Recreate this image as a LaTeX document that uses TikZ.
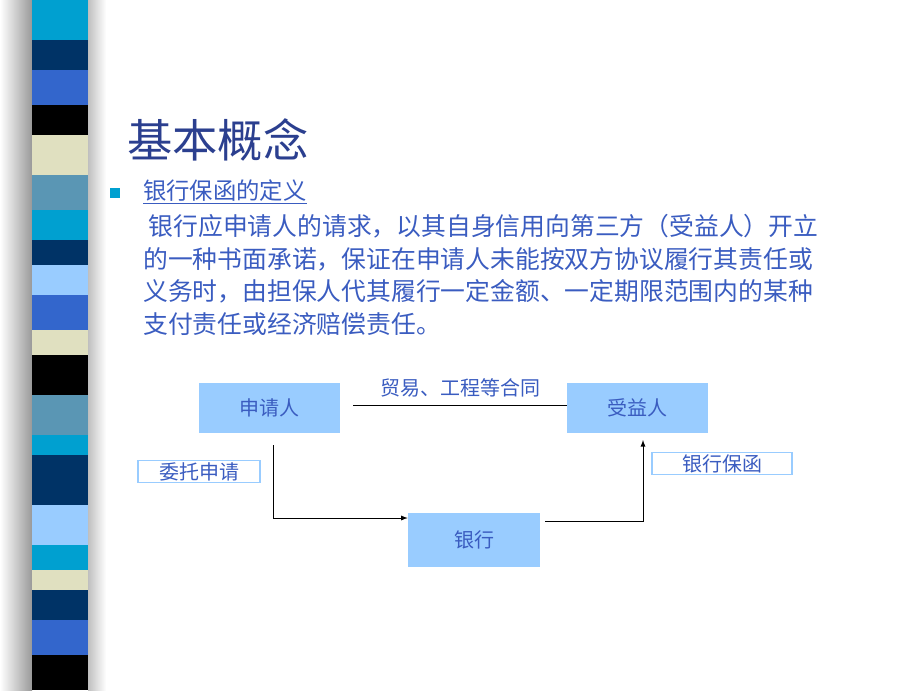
\documentclass[tikz,border=0pt]{standalone}
\usepackage{fontspec}
\newfontfamily\cjk{Noto Sans CJK SC}
\usetikzlibrary{positioning}
\definecolor{stripeCyan}{HTML}{00A0D0}
\definecolor{stripeSteel}{HTML}{5A96B4}
\definecolor{stripeNavy}{HTML}{003366}
\definecolor{stripeRoyal}{HTML}{3366CC}
\definecolor{stripeCream}{HTML}{E0E0C0}
\definecolor{stripeLight}{HTML}{99CCFF}
\definecolor{titleBlue}{HTML}{2B3F8F}
\definecolor{textBlue}{HTML}{3A5CC0}
\tikzset{
  party/.style = {fill=stripeLight, minimum width=105.75pt, minimum height=37.5pt, inner sep=0, font=\cjk\fontsize{15}{15}\selectfont, text=textBlue},
  tag/.style = {draw=stripeLight, line width=0.8pt, inner sep=0, font=\cjk\fontsize{15}{15}\selectfont, text=textBlue},
  flow/.style = {line width=0.7pt, -latex}
}
\begin{document}
\begin{tikzpicture}[x=0.75pt, y=-0.75pt]
\useasboundingbox (0,0) rectangle (920,690);

% shadowed stripe bar
\shade[left color=white, right color=gray!80] (0,0) rectangle (32,690);
\shade[left color=gray!50, right color=white] (88,0) rectangle (106,690);
\foreach \ya/\yb/\c in {0/40/stripeCyan, 40/70/stripeNavy, 70/105/stripeRoyal, 105/135/black,
  135/175/stripeCream, 175/210/stripeSteel, 210/240/stripeCyan, 240/265/stripeNavy,
  265/295/stripeLight, 295/330/stripeRoyal, 330/355/stripeCream, 355/395/black,
  395/435/stripeSteel, 435/455/stripeCyan, 455/505/stripeNavy, 505/545/stripeLight,
  545/570/stripeCyan, 570/590/stripeCream, 590/620/stripeNavy, 620/655/stripeRoyal, 655/690/black}
  \fill[\c] (32,\ya) rectangle (88,\yb);

% text
\node[anchor=west, text=titleBlue, font=\cjk\fontsize{34}{34}\selectfont, inner sep=0] (title) at (127,140) {基本概念};
\fill[stripeCyan] (110,188) rectangle (120,198);
\node[anchor=west, text=textBlue, font=\cjk\fontsize{17.5}{17.5}\selectfont, inner sep=0] (head) at (143,192) {\underline{银行保函的定义}};
\node[anchor=north west, text=textBlue, font=\cjk\fontsize{18.6}{24.4}\selectfont, inner sep=0, align=left] (body) at (143,214)
  {\hspace{4pt}银行应申请人的请求，以其自身信用向第三方（受益人）开立\\
   的一种书面承诺，保证在申请人未能按双方协议履行其责任或\\
   义务时，由担保人代其履行一定金额、一定期限范围内的某种\\
   支付责任或经济赔偿责任。};

% diagram
\node[party] (applicant) at (269.5,408) {申请人};
\node[party] (beneficiary) at (637.5,408) {受益人};
\node[party, minimum width=99pt, minimum height=40.5pt] (bank) at (474,540) {银行};
\node[text=textBlue, font=\cjk\fontsize{15}{15}\selectfont] (contract) at (460,388) {贸易、工程等合同};
\node[tag, minimum width=91.5pt, minimum height=17pt] (entrust) at (199,471.5) {委托申请};
\node[tag, minimum width=105pt, minimum height=17pt] (guarantee) at (722,463.5) {银行保函};

\coordinate (cA) at (353,405);
\coordinate (cB) at (273,445);
\coordinate (cC) at (273,518);
\coordinate (cD) at (545,521);
\coordinate (cE) at (643,521);
\coordinate (cF) at (643,440);
\draw[line width=0.7pt] (cA) -- (beneficiary.west |- cA);
\draw[flow] (cB) -- (cC) -- (bank.west |- cC);
\draw[flow] (cD) -- (cE) -- (cF);
\end{tikzpicture}
\end{document}
